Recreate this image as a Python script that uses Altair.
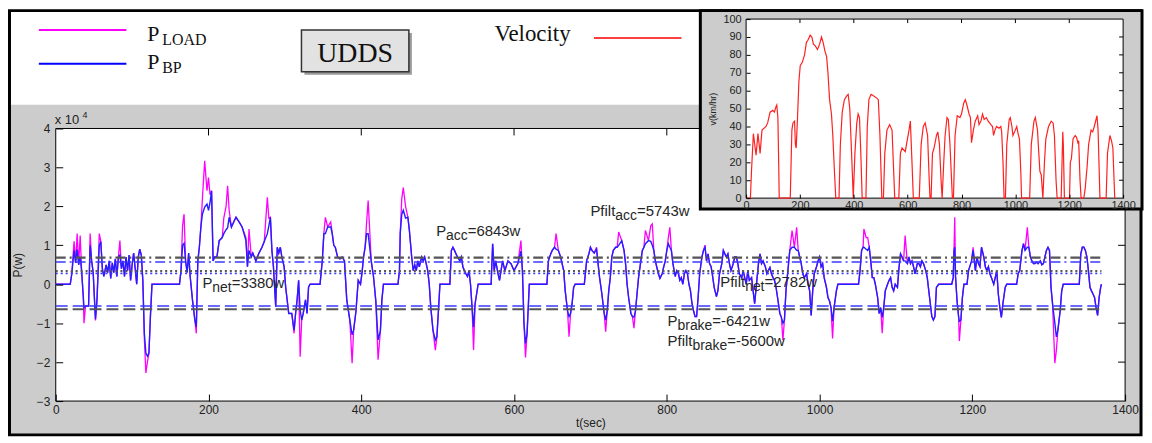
import altair as alt
import pandas as pd

SANS = "Liberation Sans"
SERIF = "Liberation Serif"

# ---------------- data (power in units of 1e4 W) ----------------
T = [0,19,21,24,26,28,30,32,34,36, 37,39,43,45,47,49,52,54,57,59, 61,63,66,68,70,72,74,76,78,80,
     82,84,86,88,90,92,94,96,98,100, 102,104,106,108,110,112,114,116,118,120, 122,124,126,
     162,164,166,168,170,172,174,176,179,182, 184,186,188,190,192,195,198,200,202,204,
     206,208,211,214,218,220,223,225,227,230, 233,236,240,244,249,251,253,256,258,262,
     266,270,273,277,279,281,283,285,288,290, 292,294,296,299,301,305,309,312,314,316,
     318,320,322,324,327,329,331,333,
     346,349,351,353,356,360,362,364,366,369, 372,375,378,381,385,388,390,393,396,399,
     401,403,405,407,409,411,413,416,419,422, 425,427,429,
     448,450,451,453,455,458,461,463,466,468, 470,472,474,476,479,481,483,485,487,489,
     491,494,497,499,501,503,516,518,520,522, 524,526,529,531,533,535,537,539,541,543,
     545,547,549,553,
     570,572,574,576,579,581,583,585,588,592, 596,600,605,609,611,613,615,617,620,643,
     645,648,650,653,655,658,661,665,667,670, 672,674,676,678,680,692,
     695,698,700,702,705,708,710,712,715,718, 720,722,724,726,728,730,733,735,737,741,
     744,746,748,750,753,755,757,759,761,763, 766,768,770,772,776,779,781,783,785,787,
     789,791,794,796,798,800,802,804,806,808, 811,813,815,817,819,821,823,825,827,829,
     831,833,835,837,839,841,843,846,848,850, 852,854,856,858,860,862,865,867,869,872,
     874,876,878,880,882,884,887,889,891,893, 895,898,900,902,904,906,908,911,913,915,
     917,920,922,924,926,929,931,933,935,937, 939,941,943,945,948,950,952,954,956,959,
     961,964,967,970,972,974,976,978,980,983, 985,987,989,991,993,996,998,1000,1002,1004,
     1006,1009,1011,1013,1015,1017,1019,1022,1024,
     1051,1053,1055,1057,1058,1061,1063,1065,1067,1069, 1071,1073,1076,1078,1080,1082,1084,1086,1089,1091,
     1093,1095,1097,1099,1102,1104,1106,1108,1110,1112, 1115,1117,1119,1121,1123,1125,1128,1130,1132,1134,
     1136,1139,1141,1143,1145,1147,1149,1151,1153,1156, 1173,1175,1176,1177,1178,1180,1182,1183,1185,1187,
     1189,1193,1195,1199,1201,1204,1206,1208,1210,1212, 1215,1217,1219,1221,1223,1225,1228,1230,1232,1234,
     1236,1238,1240,1243,1245,1258,1260,1262,1265,1267, 1269,1272,1274,1276,1278,1280,1282,1284,1286,1289,
     1291,1293,1295,1297,1299,1301,1303,1305,1307,1308, 1310,1312,1315,1317,1319,1340,1342,1344,1346,1348,
     1350,1352,1354,1356,1358,1360,1362,1364,1366,1368, 1369]

P_BP = [0,0,.27,.87,.55,.9,.5,.7,.3,-.3, -.6,-.56,-.56,1.0,.6,.3,-.9,-.4,1.0,1.1, .4,.2,.5,.3,.6,.15,.55,.3,.65,.2,
        .7,.75,.4,.6,.2,.7,.35,.75,.1,.5, .8,.4,0,.7,.9,.75,.1,-1.26,-1.77,-1.85, -1.77,-.8,0,
        0,.35,1.0,1.05,.6,.3,.8,.2,-.4,-.9, -1.1,.6,.95,1.47,1.8,1.98,2.06,1.9,2.1,2.4,
        .6,.7,.7,1.12,1.2,1.3,1.4,1.45,1.72,1.47, 1.6,1.72,1.6,1.47,1.12,.45,.87,.7,.8,.6,
        .8,.95,1.1,1.3,1.5,1.72,.87,.45,-.58,.95, .8,.95,.7,.45,-.07,-.75,-.75,-1.18,-.75,-.4,
        .1,-.67,-.92,-.75,-.4,-.75,-.07,0,
        0,.61,1.3,1.3,1.47,1.47,1.3,1.0,.95,.7, .65,.7,.6,-.4,-.92,-1.3,-1.18,-.7,.1,0,
        .3,.7,.95,1.3,1.3,.95,.6,.2,-.42,-1.43, -1.2,-.4,0,
        0,.35,1.3,1.8,1.9,1.7,1.72,1.38,.7,.35, .5,.35,.6,.45,.7,.6,.7,.53,.35,0,
        -.6,-1.2,-1.43,-1.35,-.68,0,0,.87,.95,.87, .78,.7,.6,.7,.45,.35,.27,.2,.35,0,
        -.58,-1.1,-.5,0,
        0,1.04,.35,.6,.27,.1,.35,.6,.35,.6, .53,.35,.53,.85,.35,-1.0,-1.52,-1.28,0,0,
        .6,.78,.87,.95,.9,.87,.7,.35,-.17,-.68, -.83,-.75,-.5,-.08,0,0,
        .6,.78,.95,.87,.8,.9,.53,.17,-.25,-.75, -.92,-.68,-.17,.17,.7,.87,.95,.95,1.0,1.12,
        .87,.53,0,-.34,-.75,-.83,-.85,-.68,-.25,.17, .6,.87,.95,1.04,1.12,1.1,1.0,.87,.6,.43,
        .27,.15,.27,.45,.6,.87,1.04,.95,.87,.53, .2,.35,.3,.1,.17,0,.27,.35,.27,0,
        -.17,-.5,-.68,-.83,-.83,-.34,.27,.7,.87,.95, .6,.78,.53,.45,.2,-.08,-.32,-.15,.27,.53,
        .87,.78,.7,.78,.53,.35,.53,.7,.7,.53, .27,.17,.35,.17,0,.35,.1,.17,-.17,-.5,
        -.08,.53,.78,.53,.6,.45,.27,.35,.43,.27, .17,.1,-.08,-.34,-.75,-.85,-1.0,-.92,-.17,.45,
        .87,.95,.95,.87,.87,.7,.53,.27,.17,.27, 0,-.17,-.8,-.17,.27,.45,.6,.7,.45,.53,
        .17,-.08,-.34,-.43,-.6,-.95,-.6,-.17,0,
        0,.35,.87,.95,.95,.9,.87,.95,.6,.17, .17,0,-.34,-.75,-.6,-.85,-.6,-.17,0,.1,
        .17,-.08,-.17,0,-.08,.43,.78,.7,.6,.6, .53,.7,.53,.6,.45,.27,.53,.53,.45,.6,
        .53,.35,.17,-.17,-.5,-.83,-.92,-.83,-.08,0, 0,.17,.87,.95,.2,-.43,-.83,-.95,-.92,-.34,
        0,0,.35,.6,.87,.35,.7,.53,.45,.95, .7,.45,.35,.45,.27,.17,0,.17,.35,-.25,
        -.6,-.85,-.5,-.08,0,0,.27,.35,.87,1.04, .87,.95,.95,.7,.6,.53,.53,.57,.53,.6,
        .5,.53,.7,.87,.95,.87,-.08,-.5,-.83,-1.0, -1.35,-1.18,-.68,-.17,0,0,.78,.95,.95,.87,
        .7,.35,-.08,-.17,-.25,-.34,-.6,-.8,-.34,-.08, 0]

P_LOAD = [0,0,.27,1.1,.55,1.3,.5,1.25,.3,-.3, -1.0,-.56,-.56,1.3,.6,.3,-.93,-.4,1.3,1.1, .4,.2,.5,.3,.6,.15,.55,.3,.65,.2,
          .7,1.12,.4,.6,.2,.7,.35,.75,.1,.5, .8,.4,0,.7,.9,.75,.1,-1.4,-2.28,-2.0, -1.77,-.8,0,
          0,.35,1.5,1.8,.6,.3,.8,.2,-.4,-.9, -1.26,.6,.95,1.47,2.2,3.17,2.4,2.74,2.3,2.4,
          .6,.7,.7,1.12,1.2,1.7,2.0,2.53,1.9,1.47, 1.6,1.72,1.6,1.47,1.2,.45,1.42,.7,.8,.6,
          .8,.95,1.1,2.23,1.7,1.72,.87,.45,-.58,.95, .8,.95,.7,.45,-.07,-.75,-.75,-1.26,-.75,-.4,
          .1,-1.86,-.92,-.75,-.4,-.75,-.07,0,
          0,.61,1.3,1.72,1.47,1.6,1.3,1.0,.95,.7, .65,.7,.6,-.4,-.92,-2.03,-1.18,-.7,.1,0,
          .3,.7,.95,1.6,2.15,1.4,.6,.2,-.42,-1.94, -1.2,-.4,0,
          0,.35,1.3,2.2,2.48,2.0,1.72,1.38,.7,.35, .5,.35,.6,.45,.7,.6,.7,.53,.35,0,
          -.6,-1.2,-1.69,-1.35,-.68,0,0,.87,.95,.87, .78,.7,.6,.7,.45,.35,.27,.2,.35,0,
          -.58,-1.69,-.5,0,
          0,1.04,.35,.6,.27,.1,.35,.6,.35,.6, .53,.35,.53,1.12,.35,-1.0,-1.88,-1.28,0,0,
          .6,.78,.87,.95,1.3,.87,.7,.35,-.17,-.68, -1.35,-.75,-.5,-.08,0,0,
          .6,.78,.95,.87,.8,.95,.53,.17,-.25,-.75, -1.22,-.68,-.17,.17,.7,.87,.95,.95,1.34,1.12,
          .87,.53,0,-.34,-.75,-.83,-1.13,-.68,-.25,.17, .6,.87,.95,1.38,1.12,1.5,1.55,.87,.6,.43,
          .27,.15,.27,.45,.6,.87,1.2,1.46,.87,.53, .2,.35,.3,.1,.17,0,.27,.35,.27,0,
          -.17,-.5,-.68,-.83,-.83,-.34,.27,.7,.87,1.0, .6,.78,.53,.45,.2,-.08,-.32,-.15,.27,.53,
          .87,.78,.7,.78,.53,.35,.53,.7,.7,.53, .27,.17,.35,.17,0,.35,.1,.17,-.17,-.5,
          -.08,.53,.78,.53,.6,.45,.27,.35,.43,.27, .17,.1,-.08,-.34,-.75,-.85,-1.43,-.92,-.17,.45,
          .87,1.38,.95,1.46,.87,.7,.53,.27,.17,.27, 0,-.17,-.8,-.17,.27,.45,.6,.7,.45,.53,
          .17,-.08,-.34,-.43,-.6,-1.39,-.6,-.17,0,
          0,.35,.87,.95,1.42,1.2,1.2,.95,.6,.17, .17,0,-.34,-.75,-.6,-1.26,-.6,-.17,0,.1,
          .17,-.08,-.17,0,-.08,.43,.78,.7,.6,1.25, .53,.7,.53,.6,.45,.27,.53,.53,.45,.6,
          .53,.35,.17,-.17,-.5,-.83,-.92,-.83,-.08,0, 0,.17,.87,1.72,.2,-.43,-.83,-1.46,-.92,-.34,
          0,0,.35,.6,.95,.35,.7,.53,.45,.95, .7,.45,.35,.45,.27,.17,0,.17,.35,-.25,
          -.6,-.85,-.5,-.08,0,0,.27,.35,.87,1.04, .87,1.46,.95,.7,.6,.53,.53,.57,.53,.6,
          .5,.53,.7,.87,.95,.87,-.08,-.5,-1.5,-2.03, -1.7,-1.18,-.68,-.17,0,0,.78,.95,.95,.87,
          .7,.35,-.08,-.17,-.25,-.34,-.6,-.8,-.34,-.08, 0]

# velocity (km/h) of the UDDS cycle, inset
VT = [0,16,20,27,37,44,52,59,74,80,89,99,105,111,114,118,121,123,164,170,174,180,183,186,191,196,
      201,209,217,224,229,238,244,250,257,265,273,280,286,293,299,304,310,317,322,328,333,345,350,357,
      365,373,379,385,393,398,404,411,416,421,426,431,445,450,456,464,474,484,491,497,504,510,515,523,
      533,542,548,552,567,573,579,591,599,605,610,616,621,643,650,658,665,674,680,683,687,692,698,707,
      712,718,724,728,734,739,746,751,757,763,766,770,776,784,794,800,808,814,820,828,833,837,844,851,
      860,865,872,878,884,892,899,909,915,919,924,930,939,946,949,954,958,963,968,977,981,987,991,997,
      1005,1010,1015,1020,1023,1053,1059,1069,1074,1082,1087,1091,1096,1102,1108,1113,1123,1133,1140,1145,
      1151,1155,1170,1176,1178,1182,1201,1204,1208,1214,1222,1227,1232,1235,1240,1244,1254,1259,1263,1266,
      1272,1281,1287,1293,1303,1307,1314,1337,1342,1351,1357,1362,1369]
V = [0,0,15,36,24,36,25,38,40,42,48,49,48,51,52,45,20,0,0,38,42,43,30,28,45,65,
     74,76,80,87,88,91,90,86,85,83,86,90,87,82,79,70,55,47,35,15,0,0,30,48,
     55,57,58,50,20,0,25,42,47,45,25,0,0,40,55,58,57,56,55,35,0,0,25,38,
     41,38,15,0,0,25,28,26,33,38,43,20,0,0,30,40,42,35,10,0,0,25,28,35,
     37,30,10,0,20,35,45,44,30,10,0,0,35,46,45,47,53,55,52,47,45,31,38,43,
     46,41,43,47,44,45,43,41,40,35,38,40,39,40,37,20,0,0,30,44,45,40,35,37,
     40,36,33,15,0,0,30,43,45,38,25,15,13,0,20,33,40,43,42,35,
     10,0,0,37,30,0,0,20,22,33,35,34,31,32,10,0,0,5,12,17,
     30,38,37,40,46,38,0,0,25,35,32,28,0]

assert len(T) == len(P_BP) == len(P_LOAD), (len(T), len(P_BP), len(P_LOAD))
assert len(VT) == len(V), (len(VT), len(V))

# reference levels (W)
REF_KIND = ["P", "Pfilt", "P", "Pfilt", "P", "Pfilt"]
REF_SUB = ["acc", "acc", "net", "net", "brake", "brake"]
REF_STYLE = ["dashdot", "dashdot", "dotted", "dotted", "dashed", "dashed"]
REF_VALUES = [6843, 5743, 3380, 2782, -6421, -5600]
# label anchor positions (data units)
ANN_T = [498, 700, 192, 870, 801, 801]
ANN_P = [1.25, 1.76, -0.10, -0.08, -1.08, -1.58]

X_TICKS = [0, 200, 400, 600, 800, 1000, 1200, 1400]
Y_TICKS = [-3, -2, -1, 0, 1, 2, 3, 4]
VY_TICKS = [0, 10, 20, 30, 40, 50, 60, 70, 80, 90, 100]

# ---------------- layout (pixels of the chart canvas) ----------------
W, H = 1142, 430
MX0, MX1, MY_TOP, MY_BOT = 48, 1123, 120, 394       # main plot area
IX0, IX1, IY_TOP, IY_BOT = 742, 1121, 10, 190        # inset plot area
TICK = 7
ITICK = 4

ONE = alt.Data(values=[{"k": 0}])


def xm(field, axis=None):
    return alt.X(field, scale=alt.Scale(domain=[0, 1400], range=[MX0, MX1], nice=False, zero=False), axis=axis)


def ym(field, axis=None):
    return alt.Y(field, scale=alt.Scale(domain=[-3, 4], range=[MY_BOT, MY_TOP], nice=False, zero=False), axis=axis)


def xi(field, axis=None):
    return alt.X(field, scale=alt.Scale(domain=[0, 1400], range=[IX0, IX1], nice=False, zero=False), axis=axis)


def yi(field, axis=None):
    return alt.Y(field, scale=alt.Scale(domain=[0, 100], range=[IY_BOT, IY_TOP], nice=False, zero=False), axis=axis)


def box(x, x2, y, y2, **kw):
    return alt.Chart(ONE).mark_rect(**kw).encode(
        x=alt.value(x), x2=alt.value(x2), y=alt.value(y), y2=alt.value(y2))


def hline(x, x2, y, **kw):
    return alt.Chart(ONE).mark_rule(**kw).encode(x=alt.value(x), x2=alt.value(x2), y=alt.value(y))


def label(x, y, text, **kw):
    kw.setdefault("align", "left")
    kw.setdefault("baseline", "alphabetic")
    return alt.Chart(ONE).mark_text(text=text, **kw).encode(x=alt.value(x), y=alt.value(y))


AW = {'P': 0.667, 'f': 0.278, 'i': 0.222, 'l': 0.222, 't': 0.278, 'n': 0.556, 'e': 0.556,
      'a': 0.556, 'c': 0.5, 'b': 0.556, 'r': 0.333, 'k': 0.5}


def tw(s, size):
    return sum(AW.get(ch, 0.556) for ch in s) * size


layers = []

# figure background regions and frame
layers.append(box(2, 1138, 96, 428, color="#cccccc"))
layers.append(box(1.5, 1139, 1.5, 428, fillOpacity=0, stroke="black", strokeWidth=3))

# top legend
layers.append(hline(31, 119, 21, color="#ff00ff", strokeWidth=2))
layers.append(hline(31, 119, 55, color="#0000ff", strokeWidth=2))
layers.append(label(140, 32, "P", font=SERIF, fontSize=22, color="#111"))
layers.append(label(155, 36, "LOAD", font=SERIF, fontSize=16, color="#111"))
layers.append(label(140, 60, "P", font=SERIF, fontSize=22, color="#111"))
layers.append(label(155, 64, "BP", font=SERIF, fontSize=16, color="#111"))

# UDDS box
layers.append(box(298, 406, 24, 66, color="#9a9a9a"))
layers.append(box(295, 403, 21, 63, color="#e2e2e2", stroke="#333333", strokeWidth=1.5))
layers.append(label(349, 53, "UDDS", font=SERIF, fontSize=28, color="#111", align="center"))

# Velocity legend
layers.append(label(489, 32, "Velocity", font=SERIF, fontSize=23, color="#111"))
layers.append(hline(589, 677, 29, color="#ff0000", strokeWidth=1.5))

# main plot area
layers.append(box(MX0, MX1, MY_TOP, MY_BOT, color="white", stroke="black", strokeWidth=1))

df = pd.DataFrame({"t": T, "p_load": P_LOAD, "p_bp": P_BP})

main_x_axis = alt.Axis(orient="bottom", offset=-(H - MY_BOT) - TICK, values=X_TICKS, tickSize=TICK,
                       labelPadding=4, labelFontSize=12, labelFlush=False, labelOverlap=False,
                       title="t(sec)", titleFontSize=12, titlePadding=2, format="d", zindex=2)
main_y_axis = alt.Axis(orient="left", offset=-(MX0 + TICK), values=Y_TICKS, tickSize=TICK,
                       labelPadding=6, labelFontSize=12, labelFlush=False, labelOverlap=False,
                       title="P(w)", titleFontSize=12, titlePadding=12, format="d", zindex=2)

layers.append(alt.Chart(df).mark_line(color="#ff00ff", strokeWidth=1.3).encode(
    x=xm("t:Q", main_x_axis), y=ym("p_load:Q", main_y_axis), order="t:Q"))
layers.append(alt.Chart(df).mark_line(color="#2020ff", strokeWidth=1.4).encode(
    x=xm("t:Q"), y=ym("p_bp:Q"), order="t:Q"))

# reference levels
refs = pd.DataFrame({"kind": REF_KIND, "style": REF_STYLE, "w": REF_VALUES})
refs["p"] = refs["w"] / 1e4
refs["t0"] = T[0]
refs["t1"] = T[-1]
layers.append(alt.Chart(refs).mark_rule().encode(
    x=xm("t0:Q"), x2="t1:Q", y=ym("p:Q"),
    color=alt.Color("kind:N", scale=alt.Scale(domain=["P", "Pfilt"], range=["#555555", "#3a3aff"]), legend=None),
    strokeWidth=alt.StrokeWidth("kind:N", scale=alt.Scale(domain=["P", "Pfilt"], range=[2.2, 1.5]), legend=None),
    strokeDash=alt.StrokeDash("style:N", scale=alt.Scale(domain=["dashdot", "dotted", "dashed"],
                                                        range=[[10, 4, 2, 4], [2, 3], [12, 5]]), legend=None),
))

# annotations
FS, FSUB = 15, 14
for i in range(len(REF_VALUES)):
    adf = pd.DataFrame({"t": [ANN_T[i]], "p": [ANN_P[i]]})
    main_txt = REF_KIND[i]
    sub_txt = REF_SUB[i]
    rest_txt = "=%dw" % REF_VALUES[i]
    d1 = tw(main_txt, FS)
    d2 = d1 + tw(sub_txt, FSUB)
    common = dict(font=SANS, color="#262626", align="left", baseline="alphabetic")
    layers.append(alt.Chart(adf).mark_text(text=main_txt, fontSize=FS, **common).encode(x=xm("t:Q"), y=ym("p:Q")))
    layers.append(alt.Chart(adf).mark_text(text=sub_txt, fontSize=FSUB, dx=d1, dy=4, **common).encode(x=xm("t:Q"), y=ym("p:Q")))
    layers.append(alt.Chart(adf).mark_text(text=rest_txt, fontSize=FS, dx=d2, **common).encode(x=xm("t:Q"), y=ym("p:Q")))

# top and right ticks of main plot
layers.append(alt.Chart(pd.DataFrame({"t": X_TICKS[1:-1]})).mark_rule(color="black").encode(
    x=xm("t:Q"), y=alt.value(MY_TOP), y2=alt.value(MY_TOP + TICK)))
layers.append(alt.Chart(pd.DataFrame({"p": Y_TICKS[1:-1]})).mark_rule(color="black").encode(
    y=ym("p:Q"), x=alt.value(MX1 - TICK), x2=alt.value(MX1)))

# exponent label
layers.append(label(MX0 - 1, MY_TOP - 5, "x 10", font=SANS, fontSize=13, color="#222"))
layers.append(label(MX0 + 27, MY_TOP - 11, "4", font=SANS, fontSize=9, color="#222"))

# ---------------- inset ----------------
layers.append(box(696, 1140, 1.5, 201, color="#cccccc", stroke="black", strokeWidth=3))
layers.append(box(IX0, IX1, IY_TOP, IY_BOT, color="white", stroke="black", strokeWidth=1))

vdf = pd.DataFrame({"t": VT, "v": V})
inset_x_axis = alt.Axis(orient="bottom", offset=-(H - IY_BOT) - ITICK, values=X_TICKS, tickSize=ITICK,
                        labelPadding=1, labelFontSize=11, labelFlush=False, labelOverlap=False, title=None,
                        format="d", zindex=2)
inset_y_axis = alt.Axis(orient="left", offset=-(IX0 + ITICK), values=VY_TICKS, tickSize=ITICK,
                        labelPadding=5, labelFontSize=11, labelFlush=False, labelOverlap=False,
                        title="v(km/hr)", titleFontSize=9, titlePadding=5, format="d", zindex=2)
layers.append(alt.Chart(vdf).mark_line(color="#ff2020", strokeWidth=1.2).encode(
    x=xi("t:Q", inset_x_axis), y=yi("v:Q", inset_y_axis), order="t:Q"))
layers.append(alt.Chart(pd.DataFrame({"t": X_TICKS[1:-1]})).mark_rule(color="black").encode(
    x=xi("t:Q"), y=alt.value(IY_TOP), y2=alt.value(IY_TOP + ITICK)))
layers.append(alt.Chart(pd.DataFrame({"v": VY_TICKS[1:-1]})).mark_rule(color="black").encode(
    y=yi("v:Q"), x=alt.value(IX1 - ITICK), x2=alt.value(IX1)))

chart = alt.layer(*layers).resolve_scale(x="independent", y="independent").properties(
    width=W, height=H, autosize=alt.AutoSizeParams(type="none"), padding=0
).configure_view(stroke=None).configure_axis(
    grid=False, domain=False, labelFont=SANS, titleFont=SANS, labelColor="#222222",
    titleColor="#222222", tickColor="black", titleFontWeight="normal"
)

chart.save("out.html", embed_options={"renderer": "svg", "actions": False})
